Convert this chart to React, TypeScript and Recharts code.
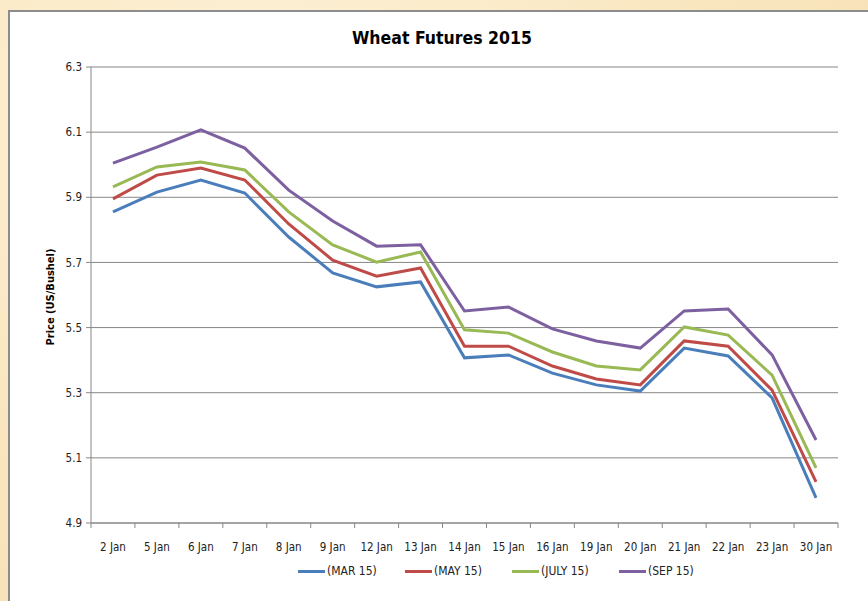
import React from "react";
import { LineChart, Line, XAxis, YAxis, CartesianGrid } from "recharts";

const DAYS = [
  "2 Jan", "5 Jan", "6 Jan", "7 Jan", "8 Jan", "9 Jan", "12 Jan", "13 Jan", "14 Jan",
  "15 Jan", "16 Jan", "19 Jan", "20 Jan", "21 Jan", "22 Jan", "23 Jan", "30 Jan",
];

const MAR15 = [5.855, 5.916, 5.953, 5.913, 5.778, 5.668, 5.625, 5.64, 5.407, 5.416, 5.36, 5.324, 5.305, 5.437, 5.413, 5.284, 4.977];
const MAY15 = [5.895, 5.968, 5.99, 5.953, 5.818, 5.707, 5.658, 5.683, 5.443, 5.443, 5.382, 5.342, 5.324, 5.459, 5.443, 5.308, 5.026];
const JUL15 = [5.932, 5.993, 6.008, 5.984, 5.855, 5.754, 5.701, 5.732, 5.493, 5.483, 5.425, 5.382, 5.37, 5.502, 5.477, 5.354, 5.069];
const SEP15 = [6.005, 6.054, 6.107, 6.051, 5.922, 5.827, 5.75, 5.754, 5.551, 5.563, 5.496, 5.459, 5.437, 5.551, 5.557, 5.416, 5.155];

const Y_TICKS = [4.9, 5.1, 5.3, 5.5, 5.7, 5.9, 6.1, 6.3];

const SERIES = [
  { key: "mar", name: "(MAR 15)", color: "#4a7ebb", values: MAR15 },
  { key: "may", name: "(MAY 15)", color: "#be4b48", values: MAY15 },
  { key: "jul", name: "(JULY 15)", color: "#98b954", values: JUL15 },
  { key: "sep", name: "(SEP 15)", color: "#7d60a0", values: SEP15 },
];

const rows = DAYS.map((day, i) => {
  const r: Record<string, string | number> = { day };
  SERIES.forEach((s) => (r[s.key] = s.values[i]));
  return r;
});

const FONT = '"Liberation Sans Narrow", "DejaVu Sans Condensed", "Open Sans", sans-serif';
const AXIS = "#868686";
const W = 868;
const H = 601;
const PLOT_LEFT = 91;
const PLOT_RIGHT = 838;
const PLOT_TOP = 67;
const PLOT_BOTTOM = 523;
const X_AXIS_H = 40;
const Y_AXIS_W = 50;

function DayTick(props: any) {
  const { x, y, payload, index } = props;
  const half = (PLOT_RIGHT - PLOT_LEFT) / DAYS.length / 2;
  return (
    <g>
      <line x1={x - half} x2={x - half} y1={y} y2={y + 5} stroke={AXIS} />
      {index === DAYS.length - 1 && (
        <line x1={x + half} x2={x + half} y1={y} y2={y + 5} stroke={AXIS} />
      )}
      <text x={x} y={y + 28} textAnchor="middle" fontSize={11.5} fill="#222" fontFamily={FONT}>
        {payload.value}
      </text>
    </g>
  );
}

export default function App() {
  return (
    <div
      style={{
        position: "absolute",
        left: 0,
        top: 0,
        width: W,
        height: H,
        overflow: "hidden",
        fontFamily: FONT,
        background:
          "radial-gradient(ellipse at 30% 20%, #fdf2d8 0%, #f9e6bf 55%, #f6ddb0 100%)",
      }}
    >
      <div
        style={{
          position: "absolute",
          left: 8,
          top: 10,
          width: W,
          height: H,
          background: "#fff",
          borderTop: "2px solid #8c8c8c",
          borderLeft: "2px solid #8c8c8c",
        }}
      />
      <div
        style={{
          position: "absolute",
          left: 352,
          top: 28,
          width: 178,
          textAlign: "center",
          fontSize: 17.5,
          fontWeight: "bold",
          color: "#000",
          whiteSpace: "nowrap",
        }}
      >
        Wheat Futures 2015
      </div>
      <div
        style={{
          position: "absolute",
          left: 50,
          top: 297,
          transform: "translate(-50%, -50%) rotate(-90deg)",
          fontSize: 11,
          fontWeight: "bold",
          whiteSpace: "nowrap",
          color: "#000",
        }}
      >
        Price (US/Bushel)
      </div>
      <div style={{ position: "absolute", left: 0, top: 0 }}>
        <LineChart
          width={W}
          height={H}
          data={rows}
          margin={{
            top: PLOT_TOP,
            right: W - PLOT_RIGHT,
            bottom: H - PLOT_BOTTOM - X_AXIS_H,
            left: PLOT_LEFT - Y_AXIS_W,
          }}
        >
          <CartesianGrid horizontal vertical={false} stroke={AXIS} strokeWidth={1} />
          <XAxis
            dataKey="day"
            scale="band"
            height={X_AXIS_H}
            stroke={AXIS}
            tickLine={false}
            tickSize={0}
            tickMargin={0}
            interval={0}
            tick={<DayTick />}
          />
          <YAxis
            width={Y_AXIS_W}
            domain={[4.9, 6.3]}
            ticks={Y_TICKS}
            interval={0}
            stroke={AXIS}
            tickSize={5}
            tickMargin={4}
            tickFormatter={(v: number) => v.toFixed(1)}
            tick={{ fontSize: 11.5, fill: "#222", fontFamily: FONT }}
          />
          {SERIES.map((s) => (
            <Line
              key={s.key}
              dataKey={s.key}
              name={s.name}
              stroke={s.color}
              strokeWidth={3}
              dot={false}
              type="linear"
              isAnimationActive={false}
            />
          ))}
        </LineChart>
      </div>
      <div
        style={{
          position: "absolute",
          top: 564,
          left: 298,
          display: "flex",
          fontSize: 12,
          color: "#222",
        }}
      >
        {SERIES.map((s) => (
          <div key={s.key} style={{ display: "flex", alignItems: "center", width: 107 }}>
            <span
              style={{
                display: "inline-block",
                width: 27,
                height: 3,
                background: s.color,
                marginRight: 2,
              }}
            />
            <span>{s.name}</span>
          </div>
        ))}
      </div>
    </div>
  );
}
